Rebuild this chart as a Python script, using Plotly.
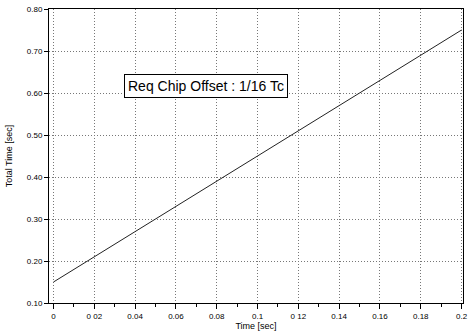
import plotly.graph_objects as go

time_s = [0.0, 0.2]
total_time = [0.15, 0.75]
x_ticks = [0, 0.02, 0.04, 0.06, 0.08, 0.1, 0.12, 0.14, 0.16, 0.18, 0.2]
x_labels = ["0", "0 02", "0.04", "0.06", "0.08", "0.1", "0 12", "0.14", "0.16", "0.18", "0.2"]
y_ticks = [0.1, 0.2, 0.3, 0.4, 0.5, 0.6, 0.7, 0.8]
y_labels = ["0.10", "0.20", "0.30", "0.40", "0.50", "0.60", "0.70", "0.80"]

fig = go.Figure()
fig.add_trace(go.Scatter(x=time_s, y=total_time, mode="lines",
                         line=dict(color="#222", width=1), showlegend=False))

fig.update_layout(
    width=473, height=335,
    margin=dict(l=49, r=5, t=8, b=32),
    paper_bgcolor="white", plot_bgcolor="white",
    font=dict(family="Liberation Sans, Arial", size=8, color="black"),
    annotations=[dict(x=0.0745, y=0.617, xref="x", yref="y",
                      text="Req Chip Offset : 1/16 Tc", showarrow=False,
                      font=dict(size=14, color="black"),
                      bordercolor="black", borderwidth=1, borderpad=3,
                      bgcolor="white")],
)
fig.update_xaxes(range=[-0.0022, 0.2007], tickvals=x_ticks, ticktext=x_labels,
                 ticks="outside", ticklen=5, tickcolor="black",
                 showline=True, linecolor="black", linewidth=1, mirror=True,
                 showgrid=True, gridcolor="#777", griddash="1px,2px", gridwidth=1,
                 minor=dict(ticks="outside", ticklen=3, tickcolor="black", dtick=0.01, tick0=0.01, showgrid=False),
                 zeroline=False,
                 title=dict(text="Time [sec]", font=dict(size=9), standoff=2))
fig.update_yaxes(range=[0.1, 0.8], tickvals=y_ticks, ticktext=y_labels,
                 ticks="outside", ticklen=4, tickcolor="black",
                 showline=True, linecolor="black", linewidth=1, mirror=True,
                 showgrid=True, gridcolor="#777", griddash="1px,2px", gridwidth=1,
                 zeroline=False,
                 title=dict(text="Total Time [sec]", font=dict(size=9), standoff=12))

fig.write_html("out.html")
